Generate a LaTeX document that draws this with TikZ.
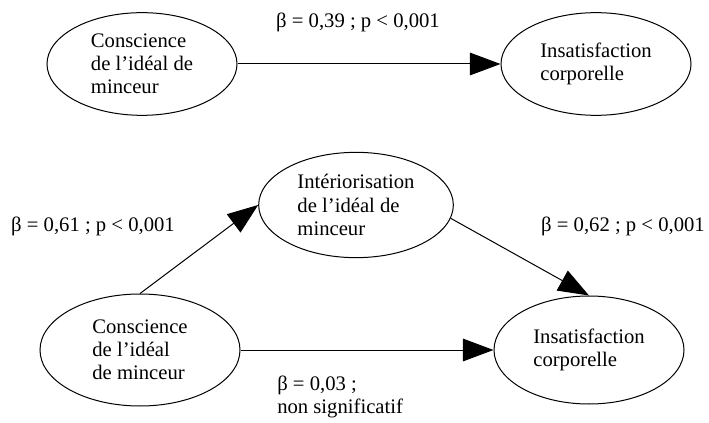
\documentclass[tikz,border=0pt]{standalone}
\usepackage{fontspec}
\setmainfont{Liberation Serif}
\usepackage{tikz}
\usetikzlibrary{arrows.meta,shapes.geometric}

\begin{document}
\begin{tikzpicture}[x=0.75pt,y=0.75pt,yscale=-1,xscale=1,
  font=\fontsize{15.5}{17.4}\selectfont,
  bulle/.style={draw,ellipse,line width=0.75,inner sep=0pt,align=left,minimum width=142.5pt,minimum height=77pt},
  lien/.style={line width=0.75,-{Triangle[length=23pt,width=17pt]}}]
\useasboundingbox (0,0) rectangle (709,423);

%Shape: Ellipse [id:conscience haut]
\node [bulle] (c1) at (142,64) {Conscience\\de l’idéal de\\minceur};
%Shape: Ellipse [id:insatisfaction haut]
\node [bulle] (i1) at (596,64) {Insatisfaction\\corporelle};
%Shape: Ellipse [id:interiorisation]
\node [bulle,minimum width=146pt,minimum height=79pt] (int) at (356,205) {Intériorisation\\de l’idéal de\\minceur};
%Shape: Ellipse [id:conscience bas]
\node [bulle,minimum width=150pt,minimum height=84pt] (c2) at (140,350) {Conscience\\de l’idéal\\de minceur};
%Shape: Ellipse [id:insatisfaction bas]
\node [bulle,minimum width=142.5pt,minimum height=81pt] (i2) at (589,350) {Insatisfaction\\corporelle};

%Straight Lines
\draw [lien] (c1) -- (i1) ;
\draw [lien] (c2.north) -- (int.west) ;
\draw [lien] (int.352) -- (i2.north) ;
\draw [lien] (c2) -- (i2) ;

% Text Node
\node (b1) at (358,22) {β = 0,39 ; p < 0,001};
% Text Node
\node (b2) at (93,226) {β = 0,61 ; p < 0,001};
% Text Node
\node (b3) at (623,226) {β = 0,62 ; p < 0,001};
% Text Node
\node [anchor=west,align=left,inner sep=0.75pt] (b4) at (276,397) {β = 0,03 ;\\non significatif};

\end{tikzpicture}
\end{document}
